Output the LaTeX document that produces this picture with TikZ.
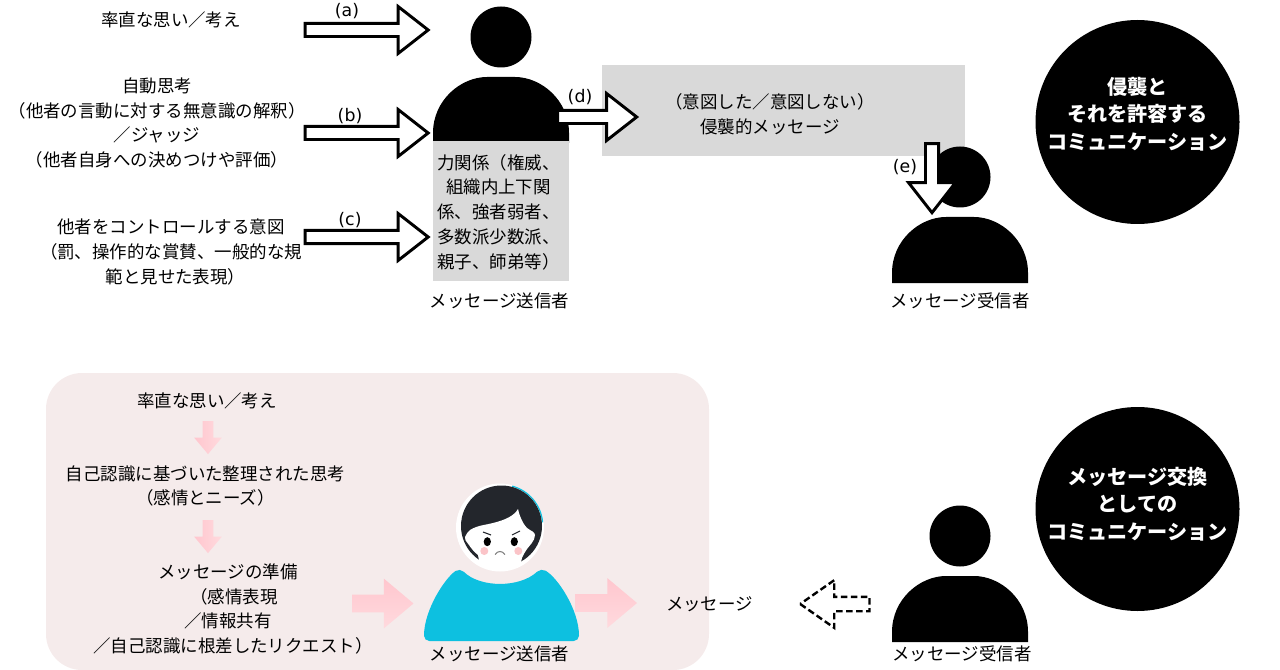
\documentclass[tikz,border=0pt]{standalone}
\usepackage{fontspec}
\usetikzlibrary{shapes.arrows}
\setmainfont{Noto Sans CJK JP}
\newfontfamily\latinfont{DejaVu Sans}
\definecolor{boxgray}{HTML}{D9D9D9}
\definecolor{panelpink}{HTML}{F5EBEB}
\definecolor{arrowpink}{HTML}{FFC6CE}
\definecolor{arrowpale}{HTML}{FFDADE}
\definecolor{shirtblue}{HTML}{0DC0E0}
\definecolor{hairdark}{HTML}{23262C}
\definecolor{cheekpink}{HTML}{FBC4C8}
\tikzset{
  jptext/.style={font=\fontsize{13.1}{18.4}\selectfont,align=center,inner sep=0pt},
  tagtext/.style={font=\latinfont\fontsize{13}{15}\selectfont,inner sep=0pt},
  titletext/.style={text=white,inner sep=0pt,align=center,font=\fontsize{15.1}{20.6}\selectfont\bfseries},
  bigarrow/.style={shape=single arrow,draw=black,fill=white,line width=2.2pt,inner xsep=0pt,inner ysep=3.8pt,
    minimum height=#1*0.75pt,minimum width=33pt,single arrow head extend=12.7pt,
    single arrow tip angle=76,single arrow head indent=0pt},
  softarrow/.style={shape=single arrow,inner xsep=0pt,single arrow tip angle=80,single arrow head indent=0pt},
  titledisc/.style={shape=circle,fill=black,minimum size=153pt,inner sep=0pt},
  personfig/.pic={
    \fill[pic actions] (0,-68) circle (30.5);
    \fill[pic actions] (-68,38) -- (-68,28) .. controls (-68,-5) and (-40,-28) .. (-14,-28)
      -- (14,-28) .. controls (40,-28) and (68,-5) .. (68,28) -- (68,38) -- cycle;
  }
}
\begin{document}
\begin{tikzpicture}[x=0.75pt,y=-0.75pt]
\useasboundingbox (0,0) rectangle (1280,670);

% upper half
\pic[black] (sender) at (501,105) {personfig};
\fill[boxgray] (433,141) rectangle (569,281);
\fill[boxgray] (602,65) rectangle (965,156);
\pic[black] (receiver) at (960,245) {personfig};

\node[jptext] (honest) at (171,20) {率直な思い／考え};
\node[jptext] (auto) at (157,123) {自動思考\\（他者の言動に対する無意識の解釈）\\／ジャッジ\\（他者自身への決めつけや評価）};
\node[jptext] (control) at (171,252) {他者をコントロールする意図\\（罰、操作的な賞賛、一般的な規\hspace*{4.5pt}\\\hspace*{6.7pt}範と見せた表現）};
\node[jptext,font=\fontsize{13.1}{18.6}\selectfont] (power) at (498.5,212) {力関係（権威、\\組織内上下関\\係、強者弱者、\\多数派少数派、\\親子、師弟等）};
\node[jptext] (sendname) at (499.5,301) {メッセージ送信者};
\node[jptext] (recvname) at (960,301) {メッセージ受信者};
\node[jptext] (invasive) at (770,114.5) {（意図した／意図しない）\\侵襲的メッセージ};

\node[bigarrow=123] (arrowa) at (362.5,30) {};
\node[bigarrow=123] (arrowb) at (362.5,133) {};
\node[bigarrow=123] (arrowc) at (362.5,237) {};
\node[bigarrow=79] (arrowd) at (593,117) {};
\node[bigarrow=69,rotate=-90] (arrowe) at (932,174) {};
\node[tagtext] (taga) at (347,11) {(a)};
\node[tagtext] (tagb) at (350,116) {(b)};
\node[tagtext] (tagc) at (350,220) {(c)};
\node[tagtext] (tagd) at (580,97) {(d)};
\node[tagtext] (tage) at (905,167) {(e)};

\node[titledisc] (titleone) at (1137.5,122) {};
\node[titletext] (titleonetext) at (1137.5,114) {侵襲と\\それを許容する\\コミュニケーション};

% lower half
\fill[panelpink,rounded corners=27pt] (46,373) rectangle (709,670);

\node[jptext] (honesttwo) at (207,401) {率直な思い／考え};
\node[jptext] (selfaware) at (205.5,486) {自己認識に基づいた整理された思考\\（感情とニーズ）};
\node[jptext] (prepare) at (228,609) {メッセージの準備\\\hspace*{9pt}（感情表現\\／情報共有\\\hspace*{7.5pt}／自己認識に根差したリクエスト）};
\node[jptext] (sendtwo) at (499.5,654) {メッセージ送信者};
\node[jptext] (recvtwo) at (962,654) {メッセージ受信者};
\node[jptext] (message) at (709.5,604) {メッセージ};

\node[softarrow,rotate=-90,left color=arrowpink,right color=arrowpale,inner ysep=3.75pt,minimum height=24.7pt,minimum width=20.2pt,single arrow head extend=6.4pt] (softa) at (208,434.5) {};
\node[softarrow,rotate=-90,left color=arrowpink,right color=arrowpale,inner ysep=3.75pt,minimum height=24.7pt,minimum width=20.2pt,single arrow head extend=6.4pt] (softb) at (208,533.5) {};
\node[softarrow,top color=arrowpink,bottom color=arrowpale,inner ysep=6.5pt,minimum height=46pt,minimum width=37pt,single arrow head extend=12pt] (softc) at (377.5,603.5) {};
\node[softarrow,top color=arrowpink,bottom color=arrowpale,inner ysep=6.5pt,minimum height=46pt,minimum width=37pt,single arrow head extend=12pt] (softd) at (601,603) {};

\fill[shirtblue,rounded corners=4pt] (424,641) .. controls (424,610) and (445,578) .. (460,568)
  .. controls (480,588) and (520,588) .. (541,568) .. controls (558,578) and (579,610) .. (579,641) -- cycle;
\fill[white] (500,527.5) circle (44);
\draw[shirtblue,line width=0.9pt] (501.5,526) ++(-75:41.3) arc (-75:-5:41.3);
\fill[hairdark] (501.5,526) circle (40.5);
\fill[white] (470,530) .. controls (478,525) and (486,525) .. (493,523) .. controls (505,520) and (514,516) .. (518,509)
  .. controls (520,518) and (524,525) .. (527,528) .. controls (531,531) and (535,532) .. (535,535)
  .. controls (535,541) and (529,546) .. (527,549) .. controls (525,552) and (523,555) .. (522,558)
  -- (520,566) .. controls (510,571) and (490,571) .. (480,566) -- (478,555) .. controls (474,552) and (471,548) .. (469,545)
  .. controls (466,541) and (464,539) .. (465,537) .. controls (466,534) and (468,532) .. (470,530) -- cycle;
\fill[black] (487.3,541.7) ellipse (3.6 and 4.5);
\fill[black] (514.3,541.7) ellipse (3.6 and 4.5);
\draw[hairdark,line width=0.8pt] (483,532) -- (491,535);
\draw[hairdark,line width=0.8pt] (520,531) -- (512,535);
\fill[cheekpink] (484.3,551) circle (4);
\fill[cheekpink] (518.3,551) circle (4);
\draw[gray,line width=0.8pt] (495,554.5) .. controls (498,550.5) and (502,550.5) .. (505,554.5);

\pic[black] (receivertwo) at (960,604) {personfig};
\node[shape=single arrow,draw=black,dash pattern=on 5pt off 2.5pt,line width=1.8pt,inner xsep=0pt,inner ysep=4.5pt,
  minimum height=52pt,minimum width=34.5pt,single arrow head extend=12.5pt,single arrow tip angle=70,
  single arrow head indent=0pt,rotate=180] (arrowback) at (840,604) {};

\node[titledisc] (titletwo) at (1137.5,509) {};
\node[titletext] (titletwotext) at (1137.5,504) {メッセージ交換\\としての\\コミュニケーション};
\end{tikzpicture}
\end{document}
